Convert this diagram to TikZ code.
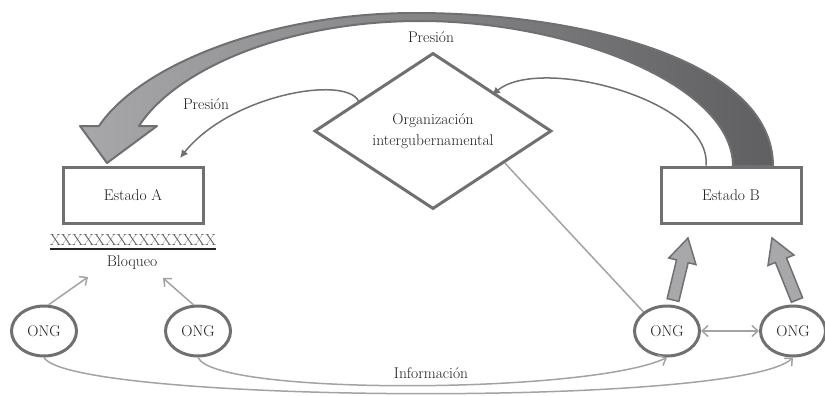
\documentclass[tikz,border=0pt]{standalone}
\usepackage{tikz}
\usetikzlibrary{arrows.meta,calc,shapes.geometric,positioning}
\definecolor{boxgray}{HTML}{707073}
\definecolor{fillgray}{HTML}{A8A8AB}
\definecolor{linegray}{HTML}{A3A3A5}
\definecolor{txtgray}{HTML}{1E1E1E}
\tikzset{
    estado/.style={rectangle, draw=boxgray, line width=3pt, minimum width=140pt, minimum height=56pt, fill=white},
    ong/.style={ellipse, draw=boxgray, line width=3pt, minimum width=65pt, minimum height=50pt, inner sep=0pt},
    oig/.style={diamond, draw=boxgray, line width=3pt, minimum width=237pt, minimum height=137pt, inner sep=0pt, align=center},
    info edge/.style={draw=linegray, line width=1.5pt, >={Straight Barb[length=6pt,width=11pt]}, ->},
    push edge/.style={draw=boxgray, line width=1.5pt, -{Latex[length=8pt,width=8pt]}},
    block arrow/.style={draw=boxgray, fill=fillgray, line width=1.5pt, line join=miter},
    big arrow/.style={draw=boxgray, line width=2pt, line join=round, left color=fillgray, right color=boxgray!85!black},
}
% block arrow from #1 to #2, head base named #3
\newcommand{\blockarrow}[3]{%
  \coordinate (#3) at ($(#2)!24pt!(#1)$);
  \draw[block arrow] ($(#1)!6pt!90:(#2)$) -- ($(#3)!6pt!90:(#2)$) -- ($(#3)!14pt!90:(#2)$) -- (#2)
    -- ($(#3)!14pt!-90:(#2)$) -- ($(#3)!6pt!-90:(#2)$) -- ($(#1)!6pt!-90:(#2)$) -- cycle;
}

\begin{document}
\begin{tikzpicture}[x=1pt, y=-1pt, font=\fontsize{15.5}{21}\selectfont, text=txtgray]
\useasboundingbox (0,0) rectangle (825,396);

% big pressure arrow from Estado B to Estado A
\draw[big arrow] (157,126) -- (107,163) -- (80,126) -- (99,126)
  .. controls (140,65) and (270,13) .. (415,13)
  .. controls (580,13) and (773,60) .. (773,166) -- (733,166)
  .. controls (733,85) and (570,21) .. (420,21)
  .. controls (285,21) and (175,70) .. (139,126) -- cycle;

% Nodes
\node[estado] (estA) at (133,195) {Estado A};
\node[estado] (estB) at (731,195) {Estado B};
\node[oig] (org) at (433,131) {Organización\\intergubernamental};
\node[ong] (ong1) at (44,331) {ONG};
\node[ong] (ong2) at (198,331) {ONG};
\node[ong] (ong3) at (667,331) {ONG};
\node[ong] (ong4) at (793,331) {ONG};

% Labels
\node (presTop) at (431,37) {Presión};
\node (presOrg) at (206,104) {Presión};
\node (info) at (431,373) {Información};
\node[inner sep=0pt, font=\fontsize{16}{19}\selectfont, text=black!65] (xline) at (133,240) {XXXXXXXXXXXXXXX};
\node (bloq) at (132,263) {Bloqueo};
\draw[black!85, line width=2pt] ($(xline.south west)+(0,3)$) -- ($(xline.south east)+(0,3)$);

% Coordinates
\coordinate (bA) at (88,277);
\coordinate (bB) at (163,278);
\coordinate (s3) at (673,300);
\coordinate (t3) at (688,238);
\coordinate (s4) at (797,300);
\coordinate (t4) at (772,238);
\coordinate (orgTip) at (492,95);
\coordinate (estTip) at (180,158);

% Pressure edges
\draw[push edge] (org.158) .. controls (345,75) and (230,95) .. (estTip);
\draw[push edge] (estB.north west -| 706,0) .. controls (712,100) and (540,55) .. (orgTip);

% Block arrows towards Estado B
\blockarrow{s3}{t3}{h3}
\blockarrow{s4}{t4}{h4}

% Light edges
\draw[info edge] (ong1.80) -- (bA);
\draw[info edge] (ong2.100) -- (bB);
\draw[info edge, <->] (ong3.east) -- (ong4.west);
\draw[info edge, -] (org.-24) -- (ong3.141);
\draw[info edge] (ong1.south) .. controls (70,403) and (740,408) .. (ong4.south);
\draw[info edge] (ong2.south) .. controls (215,396) and (590,394) .. (ong3.south);

\end{tikzpicture}
\end{document}
